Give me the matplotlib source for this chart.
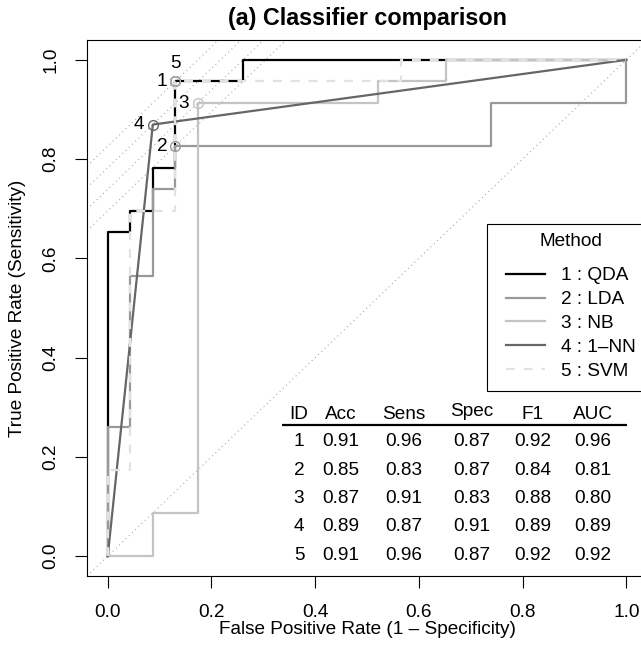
import matplotlib
matplotlib.use("Agg")
import matplotlib.pyplot as plt
from matplotlib.lines import Line2D
from matplotlib.patches import Rectangle
import numpy as np

plt.rcParams['font.family'] = ['Liberation Sans', 'DejaVu Sans']

# ROC steps, in counts of 23 negatives / 23 positives
n_class = 23.0
methods = ['QDA', 'LDA', 'NB', '1–NN', 'SVM']
roc_fp = [
    [0, 0, 1, 1, 2, 2, 3, 3, 6, 6, 23],
    [0, 0, 1, 1, 2, 2, 3, 3, 17, 17, 23, 23],
    [0, 2, 2, 4, 4, 12, 12, 15, 15, 23],
    [0, 2, 23],
    [0, 0, 1, 1, 3, 3, 13, 13, 23],
]
roc_tp = [
    [0, 15, 15, 16, 16, 18, 18, 22, 22, 23, 23],
    [0, 6, 6, 13, 13, 17, 17, 19, 19, 21, 21, 23],
    [0, 0, 2, 2, 21, 21, 22, 22, 23, 23],
    [0, 20, 23],
    [0, 4, 4, 16, 16, 22, 22, 23, 23],
]
# operating points (fp, tp counts)
point_fp = [3, 3, 4, 2, 3]
point_tp = [22, 19, 21, 20, 22]

# summary table
table_cols = ['ID', 'Acc', 'Sens', 'Spec', 'F1', 'AUC']
table_rows = [
    ['1', '0.91', '0.96', '0.87', '0.92', '0.96'],
    ['2', '0.85', '0.83', '0.87', '0.84', '0.81'],
    ['3', '0.87', '0.91', '0.83', '0.88', '0.80'],
    ['4', '0.89', '0.87', '0.91', '0.89', '0.89'],
    ['5', '0.91', '0.96', '0.87', '0.92', '0.92'],
]

colors = ['#000000', '#999999', '#c4c4c4', '#666666', '#e2e2e2']
styles = ['-', '-', '-', '-', (0, (4, 4))]
label_off = [(-9.5, 0), (-9.5, 0), (-10, 0), (-10, 0), (0, 13)]

FS = 13.7

fig = plt.figure(figsize=(6.41, 6.5), dpi=100)
# the right side of the plot box falls just outside the picture
ax = fig.add_axes([87 / 641, 74 / 650, 560 / 641, 536 / 650])
ax.set_xlim(-0.04, 1.04)
ax.set_ylim(-0.04, 1.04)

# chance line and iso-Youden lines through the operating points
ax.axline((0, 0), slope=1, color='#aaaaaa', lw=0.8, ls=(0, (1, 3)), zorder=1)
fp_arr = np.array(point_fp) / n_class
tp_arr = np.array(point_tp) / n_class
for j in sorted(set(np.round(tp_arr - fp_arr, 6))):
    ax.axline((0, j), slope=1, color='#aaaaaa', lw=0.8, ls=(0, (1, 3)), zorder=1)

handles = []
for i in range(len(methods)):
    fp = np.array(roc_fp[i]) / n_class
    tp = np.array(roc_tp[i]) / n_class
    ax.plot(fp, tp, color=colors[i], lw=1.6, ls=styles[i], zorder=2 + i)
    handles.append(Line2D([], [], color=colors[i], lw=1.6, ls=styles[i]))

for i in range(len(methods)):
    ax.plot(fp_arr[i], tp_arr[i], 'o', ms=7, mfc='none', mec=colors[i] if i != 4 else '#bbbbbb',
            mew=1.0, zorder=10)
    ax.annotate(str(i + 1), (fp_arr[i], tp_arr[i]), xytext=label_off[i],
                textcoords='offset points', ha='center', va='center', fontsize=FS, zorder=11)

# legend box drawn by hand so it matches the R-style box
ax.add_patch(Rectangle((0.714, 0.345), 0.32, 0.312, transform=ax.transAxes,
                       facecolor='white', edgecolor='black', lw=0.8, zorder=12))
leg = ax.legend(handles, [f'{i + 1} : {m}' for i, m in enumerate(methods)], title='Method',
                loc='center right', bbox_to_anchor=(1, 0.5026), borderaxespad=0,
                frameon=False, fontsize=FS, title_fontsize=FS, handlelength=2.05,
                handletextpad=0.84, labelspacing=0.345, borderpad=0.6)
leg.set_zorder(13)
leg._legend_box.sep = 12.0

# table of scores
col_x = [0.369, 0.450, 0.571, 0.702, 0.820, 0.936]
header_y = 0.286
row_y0, row_dy = 0.230, 0.0570
for c, name in enumerate(table_cols):
    ax.text(col_x[c], header_y + (0.005 if name == 'Spec' else 0), name,
            ha='center', va='center', fontsize=FS)
ax.plot([0.336, 1.001], [0.265, 0.265], color='black', lw=1.6, solid_capstyle='butt')
for r, row in enumerate(table_rows):
    for c, val in enumerate(row):
        ax.text(col_x[c], row_y0 - r * row_dy, val, ha='center', va='center', fontsize=FS)

ax.set_xticks([0, 0.2, 0.4, 0.6, 0.8, 1.0])
ax.set_yticks([0, 0.2, 0.4, 0.6, 0.8, 1.0])
ax.set_xticklabels(['0.0', '0.2', '0.4', '0.6', '0.8', '1.0'])
ax.set_yticklabels(['0.0', '0.2', '0.4', '0.6', '0.8', '1.0'], rotation=90, va='center')
ax.tick_params(direction='out', length=8.5, width=0.8, labelsize=FS)
ax.tick_params(axis='x', pad=11.5)
ax.tick_params(axis='y', pad=11.5)
for s in ax.spines.values():
    s.set_linewidth(0.8)

ax.set_xlabel('False Positive Rate (1 – Specificity)', fontsize=FS)
ax.set_ylabel('True Positive Rate (Sensitivity)', fontsize=FS)
ax.xaxis.set_label_coords(0.5, -0.084)
ax.yaxis.set_label_coords(-0.109, 0.5)
ax.set_title('(a) Classifier comparison', fontsize=16.8, fontweight='bold', pad=11)

fig.savefig('out.png', dpi=100)
